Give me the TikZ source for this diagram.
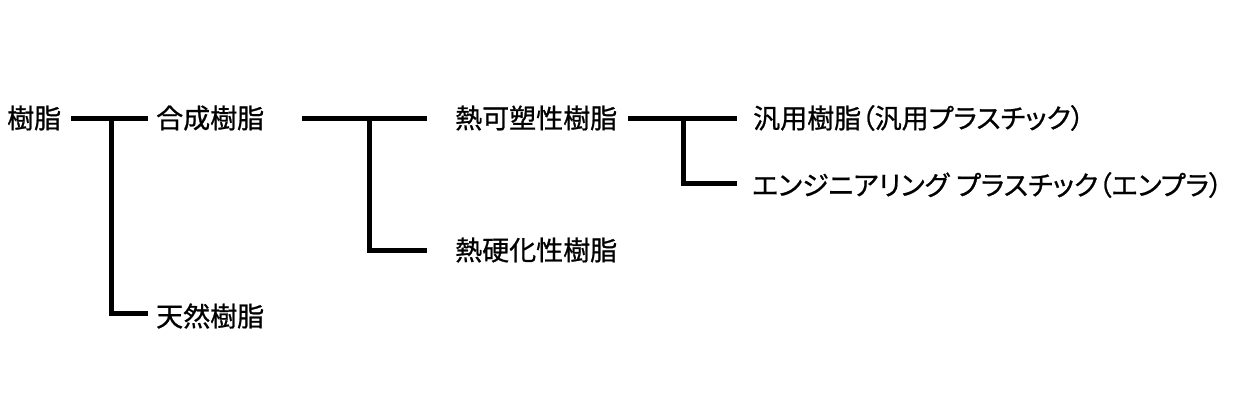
\documentclass[tikz,border=0pt]{standalone}
\usepackage{fontspec}
\setmainfont{Noto Sans CJK JP}[RawFeature=+palt,FakeBold=0.8]
\begin{document}
\begin{tikzpicture}[x=1pt,y=-1pt,
  lbl/.style={anchor=west,inner sep=0pt,font=\fontsize{27}{32}\selectfont},
  conn/.style={line width=5pt,line join=miter,line cap=butt}]
\useasboundingbox[fill=white] (0,0) rectangle (1233,415);
% nodes
\node[lbl] (r)  at (7,118)   {樹脂};
\node[lbl] (s)  at (156,118) {合成樹脂};
\node[lbl] (n)  at (156,316) {天然樹脂};
\node[lbl] (tp) at (455,118) {熱可塑性樹脂};
\node[lbl] (ts) at (455,250) {熱硬化性樹脂};
\node[lbl] (g)  at (753,118) {汎用樹脂（汎用プラスチック）};
\node[lbl] (e)  at (752,185) {エンジニアリング\hspace{7pt}プラスチック（エンプラ）};
% connector end points
\coordinate (a0) at (71,118);
\coordinate (a1) at (148,118);
\coordinate (j1) at (111,118);
\coordinate (a2) at (148,313);
\coordinate (b0) at (302,118);
\coordinate (b1) at (427,118);
\coordinate (j2) at (369,118);
\coordinate (b2) at (427,250);
\coordinate (c0) at (628,118);
\coordinate (c1) at (737,118);
\coordinate (j3) at (683,118);
\coordinate (c2) at (737,183);
% connectors
\draw[conn] (a0) -- (a1);
\draw[conn] (j1) |- (a2);
\draw[conn] (b0) -- (b1);
\draw[conn] (j2) |- (b2);
\draw[conn] (c0) -- (c1);
\draw[conn] (j3) |- (c2);
\end{tikzpicture}
\end{document}
